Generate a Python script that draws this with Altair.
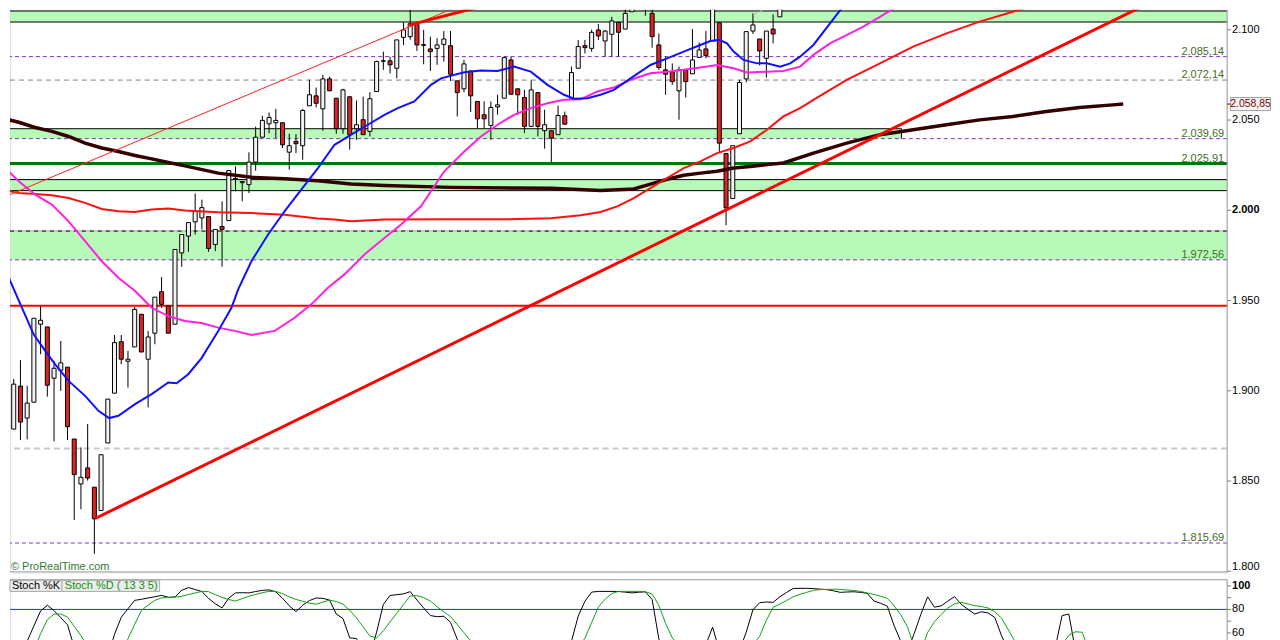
import altair as alt
import pandas as pd

# ---------------- candles (index 0..115), index points ----------------
OPEN = [1905.9, 1878.8, 1902.6, 1884.9, 1893.7, 1936.9, 1935.4, 1907.0, 1911.4, 1913.1,
        1873.3, 1848.4, 1857.3, 1846.6, 1833.7, 1871.1, 1898.7, 1927.2, 1916.4, 1924.3,
        1942.4, 1917.5, 1931.9, 1954.9, 1947.0, 1936.9, 1976.4, 1985.7, 1993.6, 1995.8,
        1996.5, 1981.1, 1991.0, 1994.3, 2017.2, 2015.3, 2014.2, 2026.7, 2040.5, 2047.9,
        2048.5, 2048.5, 2032.2, 2038.2, 2035.8, 2057.9, 2063.4, 2056.2, 2072.8, 2062.1,
        2045.2, 2062.9, 2045.2, 2050.2, 2043.7, 2065.8, 2082.8, 2082.8, 2078.7, 2095.8,
        2096.2, 2103.5, 2091.8, 2089.4, 2089.7, 2091.9, 2091.2, 2071.7, 2067.3, 2077.2,
        2060.3, 2052.9, 2047.0, 2057.3, 2062.1, 2083.3, 2067.3, 2062.5, 2046.5, 2065.2,
        2044.1, 2044.1, 2041.9, 2052.4, 2062.1, 2078.7, 2091.2, 2089.7, 2099.9, 2093.8,
        2097.5, 2104.1, 2100.4, 2110.0, 2112.8, 2122.0, 2109.1, 2091.6, 2077.8, 2076.8,
        2066.2, 2077.8, 2075.6, 2084.7, 2089.4, 2093.8, 2103.9, 2031.4, 2006.5, 2042.4,
        2072.8, 2099.3, 2094.9, 2084.2, 2100.4, 2107.2]
CLOSE = [1876.9, 1903.7, 1882.7, 1893.2, 1940.2, 1939.1, 1903.1, 1912.5, 1915.5, 1880.1,
         1853.6, 1852.1, 1851.7, 1829.1, 1864.6, 1895.4, 1926.7, 1917.5, 1917.5, 1945.1,
         1921.5, 1929.8, 1951.9, 1947.9, 1931.9, 1978.3, 1986.6, 1993.2, 1999.5, 2001.5,
         1978.9, 1989.4, 1989.4, 2022.0, 2017.6, 2016.0, 2026.7, 2040.5, 2049.8, 2051.4,
         2049.8, 2036.3, 2035.8, 2036.9, 2055.3, 2064.0, 2059.3, 2072.8, 2066.2, 2045.2,
         2066.7, 2041.9, 2047.4, 2041.9, 2061.8, 2082.4, 2082.6, 2080.6, 2094.4, 2099.9,
         2103.4, 2091.6, 2091.4, 2087.9, 2091.6, 2094.9, 2075.4, 2065.2, 2081.1, 2063.4,
         2050.7, 2050.7, 2057.0, 2058.4, 2084.6, 2064.3, 2064.0, 2046.5, 2066.7, 2046.5,
         2047.4, 2040.0, 2052.5, 2047.7, 2076.3, 2090.7, 2090.1, 2098.6, 2096.6, 2099.3,
         2104.9, 2098.6, 2109.1, 2112.2, 2118.0, 2117.0, 2096.2, 2079.1, 2075.4, 2071.3,
         2077.8, 2071.3, 2083.3, 2088.8, 2085.7, 2113.3, 2037.2, 2001.3, 2035.8, 2070.8,
         2099.0, 2102.7, 2088.3, 2099.3, 2097.7, 2118.0]
HIGH = [1906.6, 1906.6, 1917.0, 1902.8, 1940.2, 1947.0, 1935.4, 1916.6, 1927.6, 1913.1,
        1873.3, 1868.7, 1881.6, 1846.6, 1864.6, 1895.4, 1930.9, 1930.9, 1922.1, 1946.4,
        1942.4, 1933.2, 1951.9, 1963.0, 1947.0, 1978.3, 1986.6, 1993.2, 2009.3, 2005.9,
        1996.5, 1989.4, 2005.0, 2022.0, 2024.3, 2016.0, 2032.1, 2046.3, 2052.4, 2054.2,
        2056.2, 2048.5, 2042.4, 2042.2, 2056.2, 2072.3, 2068.0, 2075.0, 2074.1, 2062.1,
        2067.3, 2062.9, 2060.8, 2063.0, 2065.4, 2082.9, 2087.9, 2085.1, 2094.4, 2104.1,
        2111.1, 2104.5, 2099.9, 2096.2, 2095.3, 2099.3, 2099.3, 2071.7, 2083.3, 2077.2,
        2060.3, 2060.3, 2060.3, 2064.0, 2085.1, 2085.1, 2067.3, 2066.7, 2071.9, 2065.2,
        2055.7, 2044.1, 2058.0, 2054.7, 2079.6, 2094.4, 2094.4, 2100.1, 2103.2, 2099.9,
        2107.2, 2104.1, 2113.3, 2117.0, 2120.0, 2124.0, 2112.0, 2098.0, 2085.1, 2081.4,
        2079.6, 2077.8, 2100.4, 2093.0, 2099.3, 2113.3, 2103.9, 2031.4, 2035.8, 2072.3,
        2099.0, 2109.1, 2094.9, 2099.3, 2108.5, 2120.0]
LOW = [1876.1, 1878.8, 1872.7, 1873.1, 1893.7, 1920.3, 1896.8, 1872.0, 1900.0, 1872.7,
       1828.5, 1834.4, 1850.3, 1809.7, 1833.7, 1871.1, 1898.7, 1914.7, 1901.8, 1924.3,
       1921.5, 1890.8, 1925.8, 1946.0, 1931.9, 1936.9, 1968.7, 1977.0, 1986.6, 1989.4,
       1977.0, 1977.4, 1968.7, 1994.3, 2010.5, 2005.0, 2009.6, 2022.0, 2040.5, 2042.7,
       2040.0, 2034.5, 2022.5, 2031.7, 2028.0, 2057.9, 2057.0, 2044.1, 2066.2, 2042.4,
       2042.4, 2033.6, 2039.1, 2041.9, 2040.9, 2065.8, 2077.8, 2075.9, 2073.1, 2091.6,
       2094.5, 2088.3, 2080.9, 2077.2, 2080.6, 2082.4, 2071.7, 2052.0, 2065.4, 2054.4,
       2045.5, 2045.5, 2039.1, 2052.9, 2062.1, 2064.3, 2052.9, 2042.7, 2046.5, 2040.9,
       2034.1, 2026.6, 2041.9, 2047.7, 2062.1, 2078.7, 2086.9, 2087.9, 2094.4, 2085.1,
       2085.1, 2085.1, 2100.4, 2110.0, 2112.8, 2107.8, 2090.1, 2077.8, 2064.0, 2069.5,
       2050.2, 2062.5, 2075.6, 2084.7, 2084.2, 2093.8, 2032.2, 1991.7, 2006.5, 2042.4,
       2070.9, 2097.7, 2080.2, 2073.5, 2092.5, 2107.2]

# ---------------- moving averages (bar index, value) ----------------
BLUE_I = [-0.64, 0.49, 2.23, 3.96, 5.69, 7.17, 9.16, 11.62, 13.61, 15.19, 16.58, 19.05, 21.53,
          24.0, 25.24, 26.97, 28.95, 31.43, 33.4, 34.4, 36.37, 38.85, 41.32, 43.79, 46.27,
          48.74, 51.22, 53.7, 56.16, 58.15, 60.61, 63.09, 64.58, 68.04, 70.52, 73.0, 75.46,
          77.94, 80.42, 82.88, 84.37, 86.36, 88.33, 90.31, 92.79, 95.75, 98.23, 100.7, 103.18,
          104.66, 106.0, 107.14, 108.12, 109.6, 111.6, 113.08, 115.05, 116.54, 118.02, 120.0,
          122.47, 124.95, 126.9]
BLUE_V = [1971.3, 1960.8, 1946.0, 1931.3, 1922.1, 1914.7, 1905.5, 1897.2, 1888.9, 1884.9, 1886.2,
          1892.6, 1898.2, 1904.6, 1904.2, 1909.2, 1918.1, 1933.1, 1946.0, 1956.2, 1971.8, 1986.6,
          1999.5, 2011.5, 2023.4, 2036.3, 2041.9, 2047.4, 2052.9, 2056.6, 2060.3, 2069.5, 2073.1,
          2076.5, 2077.4, 2077.2, 2079.6, 2076.8, 2069.5, 2064.0, 2061.8, 2062.1, 2064.0, 2066.7,
          2073.1, 2080.5, 2084.2, 2087.9, 2091.6, 2093.8, 2094.4, 2092.5, 2087.9, 2083.3, 2081.4,
          2081.4, 2079.6, 2081.4, 2085.1, 2091.6, 2103.5, 2115.5, 2126.6]
MAG_I = [-0.74, 1.74, 4.2, 6.68, 9.16, 11.62, 14.1, 16.58, 19.05, 21.53, 24.0, 26.47, 28.95,
         31.43, 33.9, 36.37, 39.83, 42.8, 45.28, 47.76, 50.22, 53.19, 56.16, 58.64, 61.6, 65.07,
         68.04, 70.52, 73.0, 75.46, 77.94, 80.42, 82.88, 85.36, 87.84, 90.31, 92.79, 95.75,
         98.23, 100.7, 103.18, 105.66, 108.12, 110.11, 113.08, 115.54, 118.02, 120.0, 122.47,
         124.95, 127.42, 129.9, 132.38, 134.35, 136.6]
MAG_V = [2025.3, 2016.1, 2008.7, 2003.2, 1993.9, 1982.9, 1971.8, 1962.6, 1955.3, 1946.0, 1941.4,
         1938.7, 1937.6, 1935.0, 1933.2, 1930.9, 1933.2, 1940.5, 1947.9, 1957.1, 1964.5, 1975.5,
         1984.7, 1992.1, 2002.2, 2021.6, 2032.6, 2040.9, 2047.4, 2052.9, 2056.6, 2059.3, 2061.2,
         2061.5, 2065.8, 2068.0, 2072.3, 2075.9, 2076.8, 2077.8, 2079.1, 2080.5, 2078.7, 2076.3,
         2076.8, 2077.2, 2079.6, 2086.1, 2092.5, 2097.1, 2101.7, 2107.2, 2112.8, 2115.5, 2120.0]
RED_I = [-0.74, 1.74, 4.2, 6.68, 9.16, 11.62, 14.1, 16.58, 19.05, 21.53, 24.0, 26.47, 31.43,
         36.37, 41.32, 46.27, 48.74, 51.22, 56.16, 66.06, 73.49, 80.91, 85.36, 88.33, 90.81,
         93.27, 95.75, 98.23, 100.7, 103.18, 105.66, 108.12, 110.6, 113.08, 115.54, 118.02,
         120.0, 124.95, 129.9, 134.84, 139.8, 144.74, 149.69, 154.65, 158.1]
RED_V = [2011.5, 2009.6, 2009.0, 2008.3, 2006.8, 2004.1, 2000.7, 1999.5, 1999.1, 2000.4, 2001.0,
         1999.9, 1998.9, 1998.5, 1997.6, 1995.4, 1994.9, 1993.9, 1994.9, 1995.0, 1995.0, 1995.6,
         1997.3, 1999.1, 2002.2, 2006.8, 2012.3, 2017.9, 2023.4, 2027.1, 2031.7, 2034.5, 2038.2,
         2044.6, 2052.0, 2056.6, 2061.2, 2072.3, 2081.4, 2090.7, 2098.0, 2104.5, 2110.0, 2115.5,
         2120.0]
BROWN_I = [-0.74, 1.74, 4.2, 6.68, 9.16, 11.62, 14.1, 16.58, 19.05, 21.53, 24.0, 26.47, 31.43,
           36.37, 41.32, 46.27, 51.22, 56.16, 66.06, 80.91, 88.33, 93.27, 95.75, 98.23, 100.7,
           103.18, 105.66, 108.12, 110.6, 113.08, 115.54, 120.0, 124.95, 129.9, 134.84, 139.8,
           144.74, 149.69, 154.65, 159.6, 164.54, 166.1]
BROWN_V = [2051.0, 2048.8, 2045.9, 2043.7, 2040.9, 2037.2, 2034.5, 2032.6, 2030.4, 2028.5, 2026.5,
           2024.6, 2020.6, 2018.3, 2017.5, 2016.4, 2014.6, 2013.8, 2012.7, 2012.2, 2011.0, 2011.8,
           2014.5, 2017.2, 2019.4, 2020.6, 2021.6, 2023.4, 2024.3, 2025.3, 2026.2, 2031.7, 2037.2,
           2041.9, 2044.6, 2047.4, 2050.1, 2052.0, 2054.7, 2056.9, 2058.4, 2058.85]

# ---------------- trend lines (bar index, value) ----------------
TREND_MAIN_I = [13.2, 175.0]
TREND_MAIN_V = [1829.4, 2124.0]
TREND_THIN_I = [-1.0, 72.0]
TREND_THIN_V = [2006.4, 2120.6]
TREND_TOP_I = [59.83, 76.0]
TREND_TOP_V = [2102.6, 2118.2]
TREND_GRAY_I = [111.05, 117.0]
TREND_GRAY_V = [2108.3, 2119.1]

# ---------------- horizontal levels and zones ----------------
ZONE_LO = [2104.3, 2039.69, 2010.9, 1972.56]
ZONE_HI = [2110.4, 2045.2, 2017.0, 1988.5]
ZONE_END = [200.0, 133.1, 200.0, 200.0]
BLACK_LEVELS = [2110.4, 2104.3, 2017.0, 2010.9]
PURPLE_LEVELS = [2085.14, 2039.69, 1972.56, 1815.69]
GRAY_LEVELS = [2072.14]
LIGHTGRAY_LEVELS = [1868.1]
ZONE4_TOP = [1988.5]
GREEN_LEVELS = [2025.91]
RED_LEVELS = [1947.1]
LABEL_VALUES = [2085.14, 2072.14, 2039.69, 2025.91, 1972.56, 1815.69]
LABEL_TEXT = ["2.085,14", "2.072,14", "2.039,69", "2.025,91", "1.972,56", "1.815,69"]
LAST_VALUE = [2058.85]
LAST_TEXT = ["2.058,85"]
PRICE_TICKS = [1800, 1850, 1900, 1950, 2000, 2050, 2100]
PRICE_TICK_TEXT = ["1.800", "1.850", "1.900", "1.950", "2.000", "2.050", "2.100"]

# ---------------- stochastic (one value per bar, 0..166) ----------------
STOCH_K = [30, 25, 35, 53, 66, 78.7, 83.5, 79, 73, 67,
           48, 30, 20, 10, 8, 40, 58.8, 73.3, 80.5, 87.7,
           88.6, 89.7, 90.8, 91.9, 90.3, 90.5, 96.2, 98.6, 96.9, 95.2,
           89.3, 84.8, 81.3, 89.6, 94.0, 94.2, 94.0, 95.2, 96.2, 96.6,
           94.9, 89.5, 83.1, 78.1, 83.6, 87.5, 89.7, 89.4, 87.9, 76.1,
           72.2, 55.8, 55.3, 45, 40, 60.6, 84.3, 91.9, 92.5, 93.2,
           95.1, 88.0, 81.3, 74.8, 73.8, 74.2, 69.0, 54.7, 40, 30,
           20, 15, 20, 25, 35, 45, 52.5, 45, 38, 30,
           20, 15, 25, 40, 53, 74.3, 86.9, 94.7, 95.3, 95.3,
           95.3, 95.2, 94.7, 94.0, 94.6, 94.9, 88.5, 55, 40, 30,
           25, 30, 40, 45, 50, 65, 45, 30, 35, 45,
           60.6, 79.7, 85.7, 86.3, 86.0, 90.7, 94.4, 97.8, 97.9, 97.9,
           97.7, 97.2, 96.8, 95.8, 94.5, 94.8, 95.0, 94.5, 93.7, 87.1,
           85.2, 82.8, 66.3, 53, 45, 59.5, 76, 90.7, 81.9, 83,
           87, 90.9, 84.3, 80, 76.1, 78, 77, 73.1, 57.5, 45,
           35, 30, 25, 30, 35, 40, 48, 74.7, 76.1, 45,
           30, 25, 20, 18, 15, 12, 10]
STOCH_D = [30, 28, 30, 38, 45, 59.4, 71.1, 76.1, 76.1, 73.5,
           65.6, 57.8, 48, 35, 25, 20, 25, 35, 55.1, 67.3,
           79.2, 83.6, 87.7, 89.8, 90.1, 90.4, 91.2, 92.6, 94.0, 95.3,
           95.1, 92.5, 90.2, 88.4, 87.1, 89.2, 91.2, 92.8, 94.2, 95.3,
           95.3, 93.4, 90.6, 88.5, 86.9, 85.3, 84.4, 86.2, 87.9, 86.7,
           84.6, 79.2, 72.8, 65.2, 57.3, 55.8, 61.9, 69.3, 76.7, 84.2,
           91.5, 91.7, 90.0, 87.1, 82.3, 78.0, 73.9, 67.2, 60.2, 53.3,
           45, 35, 28, 25, 28, 32, 38, 42, 44, 40,
           35, 30, 30, 35, 42, 48, 55.5, 69, 82, 88.7,
           93.5, 95.3, 95.3, 95.3, 95.3, 95.1, 93, 83.5, 68.2, 55.9,
           48, 42, 40, 42, 45, 50, 48, 42, 38, 40,
           45, 50, 57.2, 70.8, 81.8, 84.5, 87.6, 90.7, 92.8, 94.5,
           96.2, 96.9, 97.0, 97.2, 97.0, 96.5, 96.1, 95.3, 94.0, 92.7,
           91.2, 89.3, 83.1, 75.4, 65.2, 48, 45, 60.4, 69.4, 75.6,
           81.2, 84.7, 86.0, 84.6, 83.2, 82.5, 81.2, 78.0, 72.5, 62.7,
           52.7, 40, 35, 30, 32, 38, 45, 50, 58, 61,
           60.6, 45, 35, 30, 25, 22, 20]
STOCH_TICKS = [60, 70, 80, 90, 100]
STOCH_TICK_TEXT = ["60", "", "80", "", "100"]
STOCH_LEVEL = [80]

FONT = "Liberation Sans"
W = 1220
H_MAIN = 564
H_STOCH = 63
XS = alt.Scale(domain=[0.445, 181.56], nice=False, zero=False)
YS = alt.Scale(domain=[1799.4, 2111.1], nice=False, zero=False)
SS = alt.Scale(domain=[52.1, 105.5], nice=False, zero=False)


def X(f):
    return alt.X(f"{f}:Q", scale=XS, axis=None)


def Y(f):
    return alt.Y(f"{f}:Q", scale=YS, axis=None)


def S(f):
    return alt.Y(f"{f}:Q", scale=SS, axis=None)


candles = pd.DataFrame({"i": list(range(len(OPEN))), "o": OPEN, "h": HIGH, "l": LOW, "c": CLOSE})

zones = alt.Chart(pd.DataFrame({"lo": ZONE_LO, "hi": ZONE_HI, "e": ZONE_END})).transform_calculate(
    s="-5").mark_rect(fill="#b8f8b8", clip=True).encode(
    x=X("s"), x2="e:Q", y=Y("lo"), y2="hi:Q")


def hrule(vals, color, width=1, dash=None):
    kw = dict(color=color, strokeWidth=width)
    if dash:
        kw["strokeDash"] = dash
    return alt.Chart(pd.DataFrame({"v": vals})).mark_rule(**kw).encode(y=Y("v"))


black_rules = hrule(BLACK_LEVELS, "black")
zone2 = pd.DataFrame({"s": [-5.0], "e": [ZONE_END[1]], "lo": [ZONE_LO[1]], "hi": [ZONE_HI[1]]})
zone2_top = alt.Chart(zone2).mark_rule(color="black", clip=True).encode(x=X("s"), x2="e:Q", y=Y("hi"))
zone2_side = alt.Chart(zone2).mark_rule(color="black").encode(x=X("e"), y=Y("lo"), y2="hi:Q")
z4_gray = hrule(ZONE4_TOP, "#cccccc", 2)
z4_black = hrule(ZONE4_TOP, "black", 1, [4, 4])
purple = hrule(PURPLE_LEVELS, "#8030c8", 1, [4, 3])
gray = hrule(GRAY_LEVELS, "#808080", 1, [5, 4])
lightgray = hrule(LIGHTGRAY_LEVELS, "#c8c8c8", 2, [6, 4])
green = hrule(GREEN_LEVELS, "#007800", 3)
redh = hrule(RED_LEVELS, "#ff0000", 2)
bottom_border = hrule([1799.7], "#a0a0a0", 1)

wicks = alt.Chart(candles).mark_rule(color="black", strokeWidth=1, clip=True).encode(
    x=X("i"), y=Y("l"), y2="h:Q")
bodies = alt.Chart(candles).transform_calculate(
    x0="datum.i - 0.3", x1="datum.i + 0.3").mark_rect(
    stroke="black", strokeWidth=1, clip=True).encode(
    x=X("x0"), x2="x1:Q", y=Y("o"), y2="c:Q",
    fill=alt.condition("datum.c >= datum.o", alt.value("#f2f2f2"), alt.value("#dd2222")))


def line(iv, vv, color, width, dash=None):
    kw = dict(color=color, strokeWidth=width, clip=True)
    if dash:
        kw["strokeDash"] = dash
    return alt.Chart(pd.DataFrame({"i": iv, "v": vv})).mark_line(**kw).encode(x=X("i"), y=Y("v"))


ma_brown = line(BROWN_I, BROWN_V, "#330000", 3.5)
ma_red = line(RED_I, RED_V, "#ff1010", 2)
ma_mag = line(MAG_I, MAG_V, "#ff20e0", 2)
ma_blue = line(BLUE_I, BLUE_V, "#1010ff", 2)
tr_main = line(TREND_MAIN_I, TREND_MAIN_V, "#ff0000", 3)
tr_thin = line(TREND_THIN_I, TREND_THIN_V, "#ff2020", 1)
tr_top = line(TREND_TOP_I, TREND_TOP_V, "#ff0000", 3)
tr_gray = line(TREND_GRAY_I, TREND_GRAY_V, "#b8b8b8", 1, [4, 3])

labels = alt.Chart(pd.DataFrame({"v": LABEL_VALUES, "t": LABEL_TEXT})).mark_text(
    align="right", baseline="bottom", font=FONT, fontSize=11, color="#3f6f1f").encode(
    x=alt.value(1217), y=Y("v"), text="t:N")

# right-hand price scale (border, ticks, labels)
ticks_df = pd.DataFrame({"v": PRICE_TICKS, "t": PRICE_TICK_TEXT})
r_border = alt.Chart(pd.DataFrame({"v": [0]})).mark_rule(color="#a0a0a0").encode(
    x=alt.value(W), y=alt.value(0), y2=alt.value(H_MAIN))
r_ticks = alt.Chart(ticks_df).mark_rule(color="#808080").encode(
    x=alt.value(W), x2=alt.value(W + 4), y=Y("v"))
r_labels = alt.Chart(ticks_df).transform_filter("datum.v != 2000").transform_calculate(
    yy="datum.v == 1800 ? 1802.4 : datum.v").mark_text(
    align="left", baseline="middle", font=FONT, fontSize=11, color="black").encode(
    x=alt.value(W + 5), y=Y("yy"), text="t:N")
r_bold = alt.Chart(ticks_df).transform_filter("datum.v == 2000").mark_text(
    align="left", baseline="middle", font=FONT, fontSize=11, fontWeight="bold", color="black").encode(
    x=alt.value(W + 5), y=Y("v"), text="t:N")

last_df = pd.DataFrame({"v": LAST_VALUE, "t": LAST_TEXT})
last_box = alt.Chart(last_df).transform_calculate(
    lo="datum.v - 3.6", hi="datum.v + 3.6").mark_rect(
    fill="#f4f4f4", stroke="#a0a0a0", strokeWidth=1).encode(
    x=alt.value(W + 3.5), x2=alt.value(W + 43.5), y=Y("lo"), y2="hi:Q")
last_tick = alt.Chart(last_df).mark_rule(color="#800000").encode(
    x=alt.value(W), x2=alt.value(W + 3.5), y=Y("v"))
last_text = alt.Chart(last_df).mark_text(
    align="center", baseline="middle", font=FONT, fontSize=10.5, color="#800000").encode(
    x=alt.value(W + 23.5), y=Y("v"), text="t:N")

brand = alt.Chart(pd.DataFrame({"v": [1802.2], "t": ["\u00a9 ProRealTime.com"]})).mark_text(
    align="left", baseline="middle", font=FONT, fontSize=11, color="#2f7a2f").encode(
    x=alt.value(1), y=Y("v"), text="t:N")

main = alt.layer(
    zones, black_rules, zone2_top, zone2_side, z4_gray, z4_black, purple, gray, lightgray,
    green, redh, wicks, bodies, ma_brown, ma_red, ma_mag, ma_blue,
    tr_thin, tr_main, tr_top, tr_gray, bottom_border,
    labels, r_border, r_ticks, r_labels, r_bold, last_box, last_tick, last_text, brand,
).properties(width=W, height=H_MAIN)

# ---------------- stochastic panel ----------------
stoch = pd.DataFrame({"i": list(range(len(STOCH_K))), "k": STOCH_K, "d": STOCH_D})
sticks_df = pd.DataFrame({"v": STOCH_TICKS, "t": STOCH_TICK_TEXT})
s_level = alt.Chart(pd.DataFrame({"v": STOCH_LEVEL})).mark_rule(color="#2030c0", strokeWidth=1).encode(
    y=S("v"))
s_top = alt.Chart(pd.DataFrame({"v": [105.3]})).mark_rule(color="#a8a8a8").encode(y=S("v"))
s_k = alt.Chart(stoch).mark_line(color="black", strokeWidth=1, clip=True).encode(x=X("i"), y=S("k"))
s_d = alt.Chart(stoch).mark_line(color="#10a010", strokeWidth=1, clip=True).encode(x=X("i"), y=S("d"))
s_box = alt.Chart(pd.DataFrame({"lo": [95.3], "hi": [104.7]})).mark_rect(
    fill="#ececec", stroke="#a8a8a8", strokeWidth=1).encode(
    x=alt.value(0), x2=alt.value(150), y=S("lo"), y2="hi:Q")
s_sep = alt.Chart(pd.DataFrame({"lo": [95.3], "hi": [104.7]})).mark_rule(color="#a8a8a8").encode(
    x=alt.value(52), y=S("lo"), y2="hi:Q")
s_t1 = alt.Chart(pd.DataFrame({"v": [100.0], "t": ["Stoch %K"]})).mark_text(
    align="left", baseline="middle", font=FONT, fontSize=11, color="black").encode(
    x=alt.value(2), y=S("v"), text="t:N")
s_t2 = alt.Chart(pd.DataFrame({"v": [100.0], "t": ["Stoch %D ( 13 3 5)"]})).mark_text(
    align="left", baseline="middle", font=FONT, fontSize=11, color="#109010").encode(
    x=alt.value(55), y=S("v"), text="t:N")
s_border = alt.Chart(pd.DataFrame({"v": [0]})).mark_rule(color="#a0a0a0").encode(
    x=alt.value(W), y=alt.value(0), y2=alt.value(H_STOCH))
s_ticks = alt.Chart(sticks_df).mark_rule(color="#808080").encode(
    x=alt.value(W), x2=alt.value(W + 4), y=S("v"))
s_labels = alt.Chart(sticks_df).transform_filter("datum.v != 100").mark_text(
    align="left", baseline="middle", font=FONT, fontSize=11, color="black").encode(
    x=alt.value(W + 5), y=S("v"), text="t:N")
s_bold = alt.Chart(sticks_df).transform_filter("datum.v == 100").mark_text(
    align="left", baseline="middle", font=FONT, fontSize=11, fontWeight="bold", color="black").encode(
    x=alt.value(W + 5), y=S("v"), text="t:N")

lower = alt.layer(
    s_level, s_top, s_k, s_d, s_box, s_sep, s_t1, s_t2, s_border, s_ticks, s_labels, s_bold
).properties(width=W, height=H_STOCH)

chart = alt.vconcat(main, lower, spacing=5, padding=0).configure_view(
    strokeWidth=0).configure(font=FONT)

chart.save("out.html", embed_options={"renderer": "svg", "actions": False})
